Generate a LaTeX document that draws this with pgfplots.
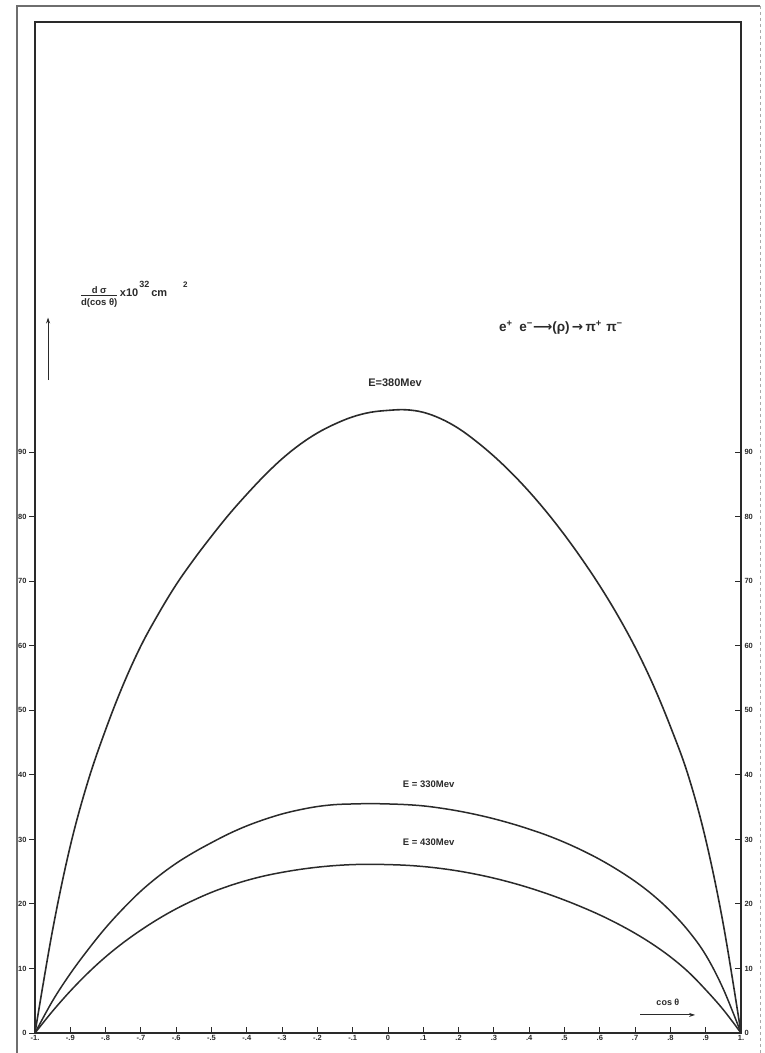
\documentclass[border=0pt]{standalone}
\usepackage{fontspec}
\setmainfont{Liberation Sans}
\newfontfamily\djv{DejaVu Sans}
\usepackage{pgfplots}
\usepackage{pgfplotstable}
\pgfplotsset{compat=1.18}
\usetikzlibrary{arrows.meta}

\definecolor{ink}{HTML}{2A2A2A}
\definecolor{rule}{HTML}{6E6E6E}

% d sigma / d(cos theta) in units of 10^-32 cm^2, against cos theta
\pgfplotstableread{
x y
-1 0
-0.95 16
-0.9 29
-0.85 39
-0.8 47
-0.75 54
-0.7 60
-0.65 65
-0.6 69.5
-0.55 73.4
-0.5 77
-0.45 80.4
-0.4 83.5
-0.35 86.4
-0.3 89
-0.25 91.2
-0.2 93
-0.15 94.4
-0.1 95.5
-0.05 96.2
0 96.5
0.05 96.6
0.1 96.2
0.15 95.2
0.2 93.7
0.25 91.7
0.3 89.4
0.35 86.8
0.4 83.9
0.45 80.7
0.5 77.2
0.55 73.4
0.6 69.3
0.65 64.8
0.7 59.8
0.75 54.1
0.8 47.5
0.85 40
0.9 30
0.95 16.8
1 0
}\eThreeEighty

\pgfplotstableread{
x y
-1 0
-0.95 5.0
-0.9 9.2
-0.85 12.9
-0.8 16.3
-0.75 19.3
-0.7 22.0
-0.65 24.3
-0.6 26.3
-0.55 28.0
-0.5 29.5
-0.45 30.9
-0.4 32.1
-0.35 33.1
-0.3 33.95
-0.25 34.6
-0.2 35.1
-0.15 35.4
-0.1 35.5
-0.05 35.55
0 35.5
0.05 35.4
0.1 35.2
0.15 34.85
0.2 34.4
0.25 33.85
0.3 33.2
0.35 32.45
0.4 31.6
0.45 30.65
0.5 29.55
0.55 28.3
0.6 26.9
0.65 25.3
0.7 23.5
0.75 21.4
0.8 18.9
0.85 15.9
0.9 12.1
0.95 6.8
1 0
}\eThreeThirty

\pgfplotstableread{
x y
-1 0
-0.95 3.4
-0.9 6.5
-0.85 9.3
-0.8 11.8
-0.75 14.0
-0.7 15.95
-0.65 17.7
-0.6 19.25
-0.55 20.6
-0.5 21.8
-0.45 22.8
-0.4 23.65
-0.35 24.35
-0.3 24.9
-0.25 25.35
-0.2 25.7
-0.15 25.95
-0.1 26.1
-0.05 26.15
0 26.1
0.05 26.0
0.1 25.8
0.15 25.5
0.2 25.1
0.25 24.6
0.3 24.0
0.35 23.3
0.4 22.5
0.45 21.6
0.5 20.6
0.55 19.5
0.6 18.3
0.65 16.95
0.7 15.45
0.75 13.75
0.8 11.8
0.85 9.5
0.9 6.7
0.95 3.6
1 0
}\eFourThirty

\pgfplotsset{
  frame geometry/.style={
    scale only axis, width=706pt, height=1011pt,
    at={(0pt,0pt)}, anchor=south west,
    xmin=-1, xmax=1, ymin=0, ymax=156.7,
    clip=false,
    major tick length=6pt,
    tick style={ink, line width=1pt},
    ticklabel style={font=\fontsize{7.5}{8}\selectfont\bfseries, text=ink},
  },
}

\begin{document}
\begin{tikzpicture}
\useasboundingbox (-35pt,-20pt) rectangle (729pt,1033pt);

% thin outer page frame
\draw[rule, line width=1.8pt] (-18pt,-25pt) -- (-18pt,1027pt) -- (725pt,1027pt);
\draw[rule!60, line width=0.8pt, dashed] (725pt,1027pt) -- (725pt,-25pt);

% left scale: ticks outside
\begin{axis}[frame geometry,
  axis line style={draw=none},
  xtick=\empty,
  ytick={0,10,20,30,40,50,60,70,80,90},
  yticklabels={0,10,20,30,40,50,60,70,80,90},
  ytick pos=left, tick align=outside,
  yticklabel style={xshift=1pt},
]
\end{axis}

% right scale: ticks inside
\begin{axis}[frame geometry,
  axis line style={draw=none},
  xtick=\empty,
  ytick={0,10,20,30,40,50,60,70,80,90},
  yticklabels={0,10,20,30,40,50,60,70,80,90},
  ytick pos=right, tick align=inside,
]
\end{axis}

% main frame, cos theta scale and the three curves
\begin{axis}[frame geometry,
  axis line style={ink, line width=2.6pt},
  ytick=\empty,
  xtick={-1,-0.9,-0.8,-0.7,-0.6,-0.5,-0.4,-0.3,-0.2,-0.1,0,0.1,0.2,0.3,0.4,0.5,0.6,0.7,0.8,0.9,1},
  xticklabels={-1.,-.9,-.8,-.7,-.6,-.5,-.4,-.3,-.2,-.1,0,.1,.2,.3,.4,.5,.6,.7,.8,.9,1.},
  xtick pos=left, tick align=inside,
  xticklabel style={yshift=1pt},
]
\addplot[ink, line width=1.6pt, smooth, tension=0.6] table {\eThreeEighty};
\addplot[ink, line width=1.5pt, smooth, tension=0.6] table {\eThreeThirty};
\addplot[ink, line width=1.5pt, smooth, tension=0.6] table {\eFourThirty};

\node[text=ink, font=\fontsize{11}{12}\selectfont\bfseries] at (axis cs:0.02,100.8) {E=380Mev};
\node[text=ink, font=\fontsize{9.5}{11}\selectfont\bfseries] at (axis cs:0.115,38.5) {E = 330Mev};
\node[text=ink, font=\fontsize{9.5}{11}\selectfont\bfseries] at (axis cs:0.115,29.6) {E = 430Mev};

% ordinate label
\node[text=ink, font=\fontsize{9.5}{10}\selectfont\bfseries, inner sep=0pt] at (axis cs:-0.818,114)
  {\begin{tabular}{@{}c@{}}d σ\\[-1pt]\hline\rule{0pt}{10pt}d(cos θ)\end{tabular}};
\node[text=ink, font=\fontsize{11}{12}\selectfont\bfseries, anchor=west, inner sep=0pt] at (axis cs:-0.76,115.4)
  {x10\hspace{1pt}\raisebox{9pt}{\fontsize{9}{10}\selectfont\bfseries 32}\hspace{2pt}cm\hspace{16pt}\raisebox{9pt}{\fontsize{8}{9}\selectfont\bfseries 2}};
\draw[ink, line width=1pt, -{Stealth[length=6pt,width=4pt]}] (axis cs:-0.963,101.2) -- (axis cs:-0.963,110.9);

% reaction
\node[text=ink, font=\fontsize{13.5}{14}\selectfont\bfseries] at (axis cs:0.49,109.3)
  {e\textsuperscript{+}\,\,\,e\textsuperscript{−}{\djv\bfseries ⟶}(ρ)\,{\djv\bfseries →}\,π\textsuperscript{+}\,\,π\textsuperscript{−}};

% abscissa label
\node[text=ink, font=\fontsize{9}{10}\selectfont\bfseries] at (axis cs:0.793,4.8) {cos θ};
\draw[ink, line width=1pt, -{Stealth[length=6pt,width=4pt]}] (axis cs:0.714,2.8) -- (axis cs:0.87,2.8);
\end{axis}
\end{tikzpicture}
\end{document}
